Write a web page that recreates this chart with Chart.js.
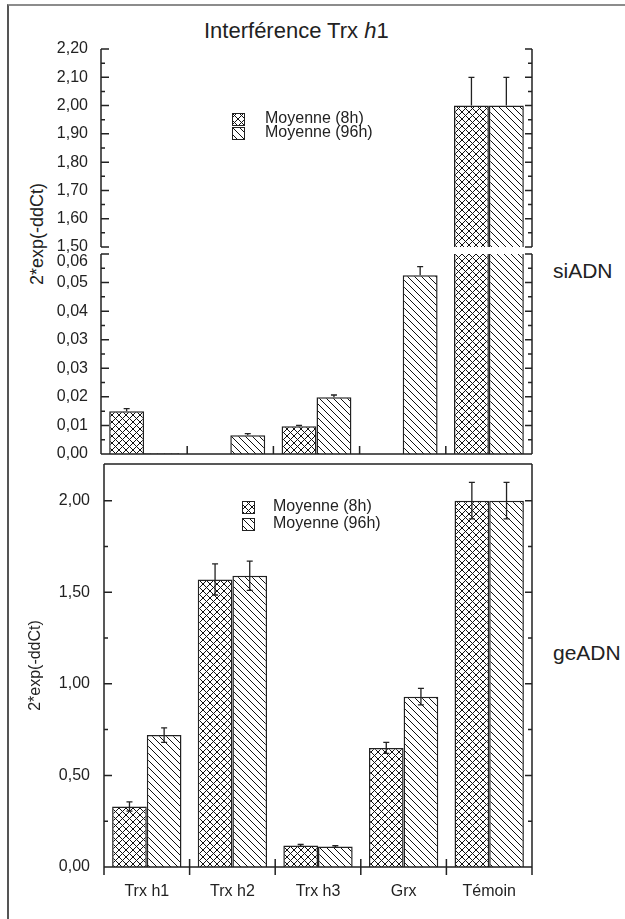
<!DOCTYPE html>
<html>
<head>
<meta charset="utf-8">
<script src="https://cdn.jsdelivr.net/npm/chart.js@4.4.1/dist/chart.umd.min.js"></script>
<style>
  body { margin: 0; width: 625px; height: 919px; overflow: hidden; background: #fff; position: relative;
         font-family: 'Liberation Sans', Arial, sans-serif; color: #222; }
  .frame { position: absolute; left: 7px; top: 4px; width: 700px; height: 1000px;
           border-top: 2px solid #8c8c8c; border-left: 2px solid #555; }
  canvas { position: absolute; left: 0; }
  .title { position: absolute; left: 204px; top: 20px; font-size: 22px; line-height: 22px; white-space: nowrap; }
  .side { position: absolute; left: 553px; font-size: 21px; line-height: 21px; }
  .ytitle { position: absolute; width: 140px; text-align: center; font-size: 18px; line-height: 18px;
            transform: rotate(-90deg); white-space: nowrap; }
</style>
</head>
<body>
<div class="frame"></div>
<div class="title">Interférence Trx <i>h</i>1</div>
<div class="ytitle" style="left:-33px; top:225px;">2*exp(-ddCt)</div>
<div class="side" style="top:260px;">siADN</div>
<div class="side" style="top:642px;">geADN</div>
<canvas id="hiChart" width="625" height="280" style="top:0"></canvas>
<canvas id="loChart" width="625" height="275" style="top:205px"></canvas>
<canvas id="geChart" width="625" height="489" style="top:430px"></canvas>
<script>
// categories
const genes = ['Trx h1', 'Trx h2', 'Trx h3', 'Grx', 'Témoin'];
const seriesNames = ['Moyenne (8h)', 'Moyenne (96h)'];

// siADN panel (broken axis)
const si8h = [0.0128, null, 0.0083, null, 2.00];
const si96h = [0.0002, 0.0056, 0.0170, 0.0536, 2.00];
const siErr8h = [0.0008, 0, 0.0003, 0, 0.10];
const siErr96h = [0, 0.0005, 0.0007, 0.0026, 0.10];

// geADN panel
const ge8h = [0.33, 1.57, 0.118, 0.65, 2.00];
const ge96h = [0.72, 1.59, 0.112, 0.93, 2.00];
const geErr8h = [0.025, 0.085, 0.005, 0.03, 0.10];
const geErr96h = [0.04, 0.08, 0.005, 0.045, 0.10];

const NARROW = "'Liberation Sans Narrow', 'Arial Narrow', sans-serif";
const INK = '#222';

// hatch fills
function makePattern(kind) {
    const s = 7;
    const c = document.createElement('canvas');
    c.width = s; c.height = s;
    const g = c.getContext('2d');
    g.fillStyle = '#fff';
    g.fillRect(0, 0, s, s);
    g.strokeStyle = '#111';
    g.lineWidth = 1;
    g.beginPath();
    for (const k of [-s, 0, s]) {
        g.moveTo(k, 0); g.lineTo(k + s, s);
        if (kind === 'cross') { g.moveTo(k, s); g.lineTo(k + s, 0); }
    }
    g.stroke();
    return g.createPattern(c, 'repeat');
}
const crossFill = makePattern('cross');
const diagFill = makePattern('diag');

const fmt = v => v.toFixed(2).replace('.', ',');

// axis lines and inward ticks, drawn from the chart's own scales
const axesPlugin = {
    id: 'boxAxes',
    afterDatasetsDraw(chart, args, o) {
        const { ctx, chartArea: a, scales } = chart;
        const y = scales.y, x = scales.x;
        ctx.save();
        ctx.strokeStyle = INK;
        ctx.lineWidth = 1.5;
        ctx.beginPath();
        const ext = o.xDown || 0;
        ctx.moveTo(a.left, a.top); ctx.lineTo(a.left, a.bottom + (o.bottomLine ? ext : 0));
        ctx.moveTo(a.right, a.top); ctx.lineTo(a.right, a.bottom + (o.bottomLine ? ext : 0));
        const vals = y.ticks.map(t => t.value);
        vals.forEach(v => {
            const p = y.getPixelForValue(v);
            ctx.moveTo(a.left, p); ctx.lineTo(a.left + 8, p);
            ctx.moveTo(a.right, p); ctx.lineTo(a.right - 7, p);
        });
        for (let i = 0; i < vals.length - 1; i++) {
            const p = y.getPixelForValue((vals[i] + vals[i + 1]) / 2);
            ctx.moveTo(a.left, p); ctx.lineTo(a.left + 4, p);
            ctx.moveTo(a.right, p); ctx.lineTo(a.right - 4, p);
        }
        if (o.topLine) {
            ctx.moveTo(a.left, a.top); ctx.lineTo(a.right, a.top);
        }
        if (o.bottomLine) {
            ctx.moveTo(a.left, a.bottom); ctx.lineTo(a.right, a.bottom);
            for (let i = 0; i < genes.length - 1; i++) {
                const px = (x.getPixelForValue(i) + x.getPixelForValue(i + 1)) / 2;
                ctx.moveTo(px, a.bottom - 8); ctx.lineTo(px, a.bottom + ext);
            }
        }
        ctx.stroke();
        ctx.restore();
    }
};

const errorPlugin = {
    id: 'errBars',
    afterDatasetsDraw(chart, args, o) {
        const { ctx } = chart;
        const y = chart.scales.y;
        ctx.save();
        ctx.strokeStyle = INK;
        ctx.lineWidth = 1.3;
        chart.data.datasets.forEach((ds, i) => {
            const meta = chart.getDatasetMeta(i);
            ds.errors.forEach((e, j) => {
                const v = ds.data[j];
                if (v == null || !e || v < y.min || v > y.max) return;
                const bx = meta.data[j].x;
                const top = y.getPixelForValue(v + e);
                const bot = y.getPixelForValue(o.both ? v - e : v);
                ctx.beginPath();
                ctx.moveTo(bx, top); ctx.lineTo(bx, bot);
                ctx.moveTo(bx - 3, top); ctx.lineTo(bx + 3, top);
                if (o.both) { ctx.moveTo(bx - 3, bot); ctx.lineTo(bx + 3, bot); }
                ctx.stroke();
            });
        });
        ctx.restore();
    }
};

const legendPlugin = {
    id: 'hatchLegend',
    afterDraw(chart, args, o) {
        if (!o.show) return;
        const ctx = chart.ctx;
        ctx.save();
        ctx.font = '16px ' + NARROW;
        ctx.textBaseline = 'middle';
        chart.data.datasets.forEach((ds, i) => {
            const yy = o.y + i * o.dy;
            ctx.fillStyle = ds.backgroundColor;
            ctx.fillRect(o.x, yy - 6, 13, 13);
            ctx.strokeStyle = INK;
            ctx.lineWidth = 1;
            ctx.strokeRect(o.x + 0.5, yy - 5.5, 12, 12);
            ctx.fillStyle = INK;
            ctx.fillText(ds.label, o.x + o.gap, yy);
        });
        ctx.restore();
    }
};

function barSets(d8, d96, e8, e96) {
    const common = { borderColor: INK, borderWidth: 1.5, categoryPercentage: 0.81, barPercentage: 1.0, clip: 0 };
    return [
        Object.assign({ label: seriesNames[0], data: d8, errors: e8, backgroundColor: crossFill }, common),
        Object.assign({ label: seriesNames[1], data: d96, errors: e96, backgroundColor: diagFill }, common)
    ];
}

function yScale(extra, width) {
    return Object.assign({
        afterFit: s => { s.width = width; },
        grid: { display: false, drawTicks: false },
        border: { display: false }
    }, extra);
}

const tickFont = { family: NARROW, size: 16, lineHeight: 1 };
const hiddenX = { display: false };

// upper part of the broken axis: 1,50 - 2,20
new Chart(document.getElementById('hiChart'), {
    type: 'bar',
    data: { labels: genes, datasets: barSets(si8h, si96h, siErr8h, siErr96h) },
    plugins: [axesPlugin, errorPlugin, legendPlugin],
    options: {
        responsive: false,
        animation: false,
        layout: { padding: { top: 49, bottom: 33, left: 0, right: 93 } },
        scales: {
            x: hiddenX,
            y: yScale({ min: 1.5, max: 2.2, ticks: { color: INK, padding: 13, stepSize: 0.1, autoSkip: false,
                font: tickFont, callback: v => fmt(v) } }, 101)
        },
        plugins: {
            legend: { display: false },
            tooltip: { enabled: false },
            boxAxes: { topLine: false, bottomLine: false },
            errBars: { both: false },
            hatchLegend: { show: true, x: 232, y: 119, dy: 14, gap: 33 }
        }
    }
});

// lower part of the broken axis: 0,00 - 0,06
new Chart(document.getElementById('loChart'), {
    type: 'bar',
    data: { labels: genes, datasets: barSets(si8h, si96h, siErr8h, siErr96h) },
    plugins: [axesPlugin, errorPlugin],
    options: {
        responsive: false,
        animation: false,
        layout: { padding: { top: 49, bottom: 26, left: 0, right: 93 } },
        scales: {
            x: hiddenX,
            y: yScale({ min: 0, max: 0.06, ticks: { color: INK, padding: 13, count: 8, autoSkip: false,
                font: tickFont,
                callback: (v, i, t) => i === t.length - 1 ? ['', fmt(v)] : fmt(v) } }, 101)
        },
        plugins: {
            legend: { display: false },
            tooltip: { enabled: false },
            boxAxes: { topLine: false, bottomLine: true, xDown: 0 },
            errBars: { both: false }
        }
    }
});

// geADN panel
new Chart(document.getElementById('geChart'), {
    type: 'bar',
    data: { labels: genes, datasets: barSets(ge8h, ge96h, geErr8h, geErr96h) },
    plugins: [axesPlugin, errorPlugin, legendPlugin],
    options: {
        responsive: false,
        animation: false,
        layout: { padding: { top: 34, bottom: 0, left: 0, right: 93 } },
        scales: {
            x: {
                afterFit: s => { s.height = 52; },
                grid: { display: false, drawTicks: false },
                border: { display: false },
                ticks: { color: INK, padding: 15, autoSkip: false, maxRotation: 0,
                    font: { family: NARROW, size: 16 } }
            },
            y: yScale({ min: 0, max: 2.2, ticks: { color: INK, padding: 14, stepSize: 0.5, includeBounds: false,
                autoSkip: false, font: tickFont, callback: v => fmt(v) },
                title: { display: true, text: '2*exp(-ddCt)', color: INK, padding: 26,
                    font: { family: "'Liberation Sans', Arial, sans-serif", size: 16 } } }, 104)
        },
        plugins: {
            legend: { display: false },
            tooltip: { enabled: false },
            boxAxes: { topLine: true, bottomLine: true, xDown: 8 },
            errBars: { both: true },
            hatchLegend: { show: true, x: 242, y: 77, dy: 17, gap: 31 }
        }
    }
});
</script>
</body>
</html>
